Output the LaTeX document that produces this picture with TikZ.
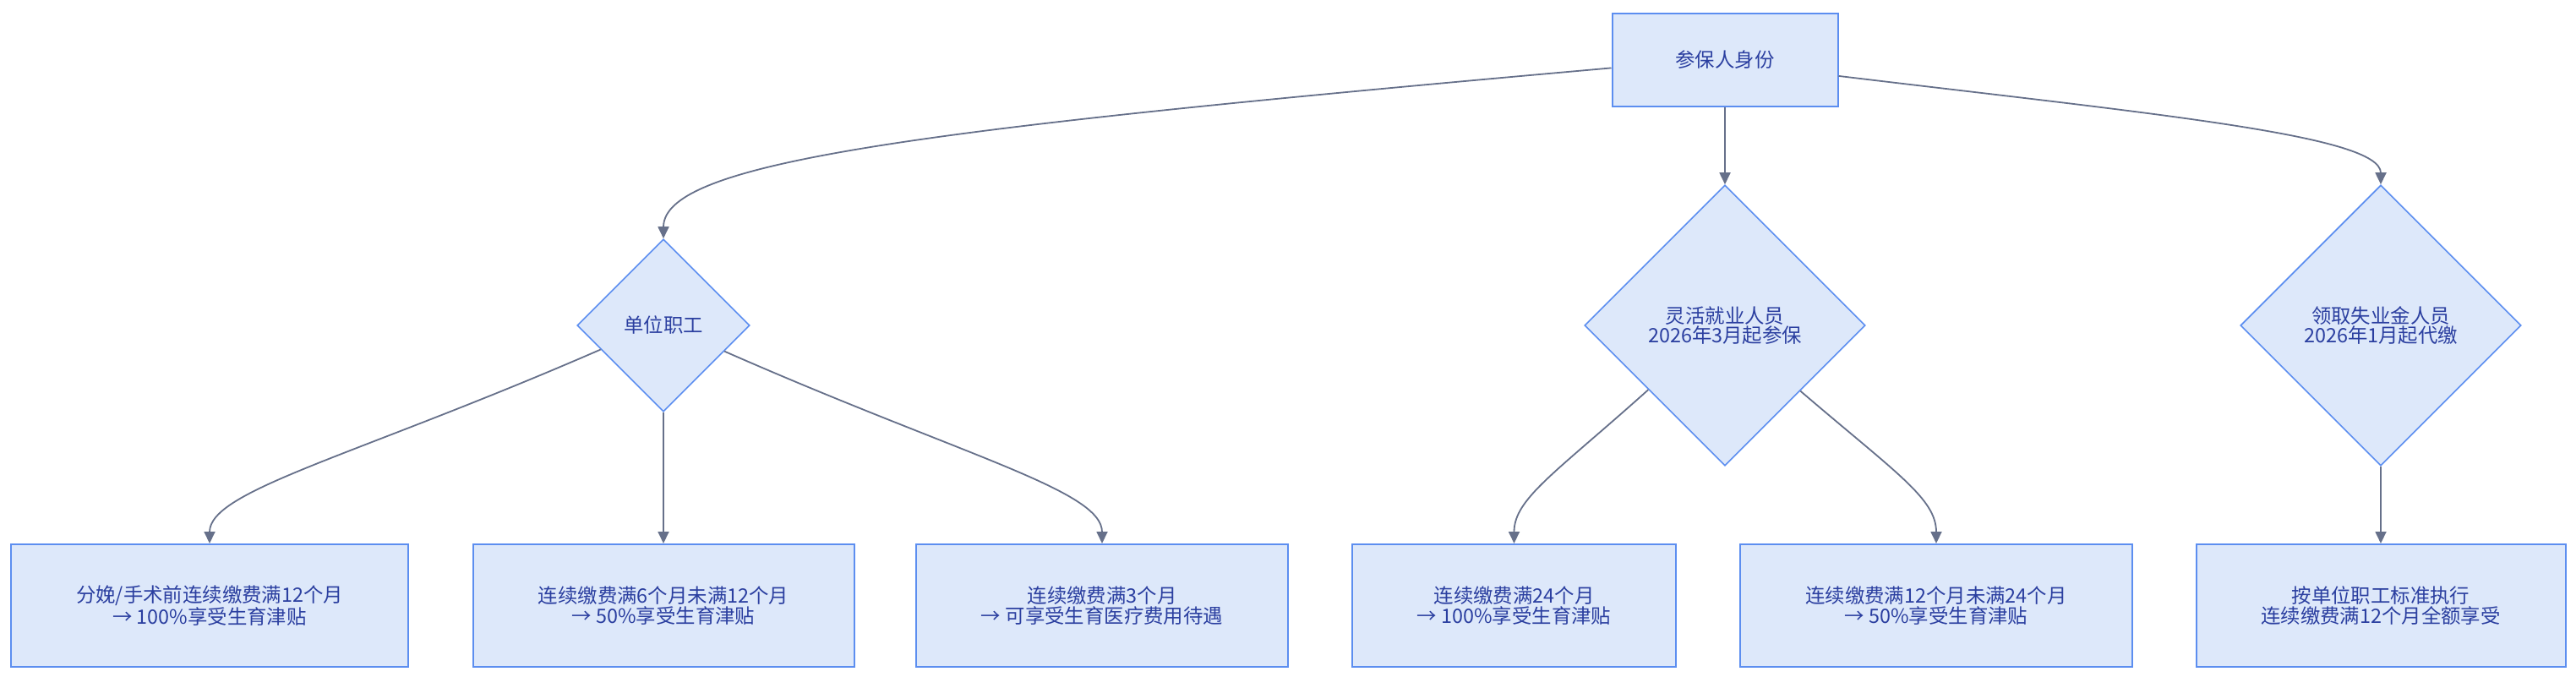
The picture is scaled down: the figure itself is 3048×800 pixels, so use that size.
\documentclass[tikz,border=0pt]{standalone}
\usepackage{fontspec}
\setmainfont{Noto Sans CJK SC}
\usepackage{tikz}
\usetikzlibrary{shapes.geometric, arrows.meta, positioning}
\definecolor{boxfill}{RGB}{221,232,250}
\definecolor{boxdraw}{RGB}{92,142,240}
\definecolor{boxtext}{RGB}{43,63,160}
\definecolor{edgegray}{RGB}{102,112,138}
\tikzstyle{rnode} = [rectangle, draw=boxdraw, fill=boxfill, text=boxtext, line width=1pt, minimum height=72.5pt, align=center, font=\fontsize{11.7pt}{11.7pt}\selectfont]
\tikzstyle{dnode} = [diamond, aspect=1, draw=boxdraw, fill=boxfill, text=boxtext, line width=0.8pt, inner sep=0pt, align=center, font=\fontsize{11.7pt}{11.7pt}\selectfont]
\tikzstyle{line} = [draw=edgegray, line width=0.9pt, -{Triangle[length=7pt, width=6.5pt]}]

\begin{document}
\begin{tikzpicture}[x=0.5pt, y=-0.5pt]
			\useasboundingbox (0,0) rectangle (3048,800);
			\node [rnode, minimum width=133.5pt, minimum height=55pt] (top) at (2041,71) {参保人身份};
			\node [dnode, minimum width=102pt, minimum height=102pt] (d1) at (785,385) {单位职工};
			\node [dnode, minimum width=166pt, minimum height=166pt] (d2) at (2041,385) {灵活就业人员\\2026年3月起参保};
			\node [dnode, minimum width=166pt, minimum height=166pt] (d3) at (2817,385) {领取失业金人员\\2026年1月起代缴};
			\node [rnode, minimum width=235pt] (b1) at (248,716.5) {分娩/手术前连续缴费满12个月\\→ 100\%享受生育津贴};
			\node [rnode, minimum width=225.5pt] (b2) at (785,716.5) {连续缴费满6个月未满12个月\\→ 50\%享受生育津贴};
			\node [rnode, minimum width=220pt] (b3) at (1304,716.5) {连续缴费满3个月\\→ 可享受生育医疗费用待遇};
			\node [rnode, minimum width=191.5pt] (b4) at (1791.5,716.5) {连续缴费满24个月\\→ 100\%享受生育津贴};
			\node [rnode, minimum width=232pt] (b5) at (2291,716.5) {连续缴费满12个月未满24个月\\→ 50\%享受生育津贴};
			\node [rnode, minimum width=218.5pt] (b6) at (2817,716.5) {按单位职工标准执行\\连续缴费满12个月全额享受};
			
			\path [line] (top.184.7) .. controls (1100,152) and (785,190) .. (d1.north);
			\path [line] (top.south) -- (d2.north);
			\path [line] (top.352.3) .. controls (2550,135) and (2817,160) .. (d3.north);
			
			\path [line] (d1.201.4) .. controls (420,540) and (248,580) .. (b1.north);
			\path [line] (d1.south) -- (b2.north);
			\path [line] (d1.337) .. controls (1140,540) and (1304,580) .. (b3.north);
			
			\path [line] (d2.220.2) .. controls (1840,560) and (1791.5,590) .. (b4.north);
			\path [line] (d2.319.1) .. controls (2244,560) and (2291,590) .. (b5.north);
			
			\path [line] (d3.south) -- (b6.north);
		\end{tikzpicture}
\end{document}
